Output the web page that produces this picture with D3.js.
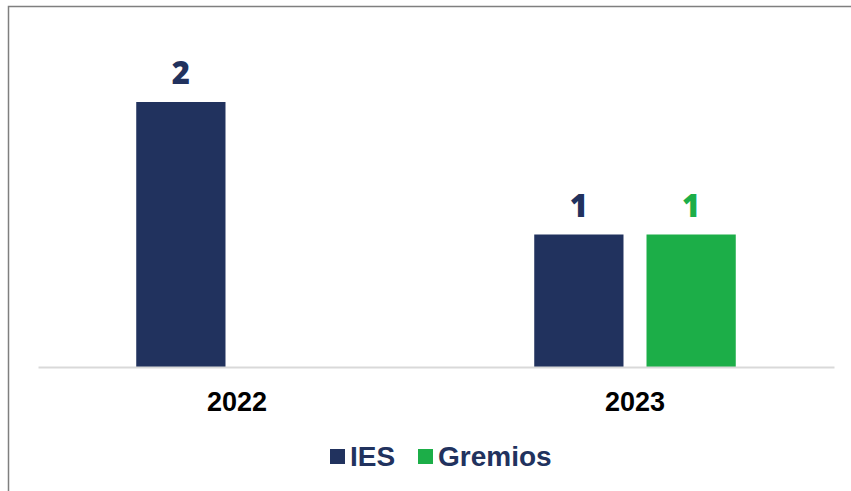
<!DOCTYPE html>
<html>
<head>
<meta charset="utf-8">
<script src="https://cdn.jsdelivr.net/npm/d3@7"></script>
<style>
  html, body { margin: 0; padding: 0; background: #fff; }
  svg { display: block; }
</style>
</head>
<body>
<svg id="chart" width="851" height="491"></svg>
<script>
const categories = ["2022", "2023"];
const seriesNames = ["IES", "Gremios"];
const iesValues = [2, 1];
const gremiosValues = [null, 1];
const seriesColors = ["#21325e", "#1cae48"];

const data = categories.map((c, i) => ({
  category: c,
  values: [
    { key: seriesNames[0], value: iesValues[i] },
    { key: seriesNames[1], value: gremiosValues[i] }
  ]
}));

const svg = d3.select("#chart");

// outer frame
svg.append("rect")
  .attr("x", 8.5).attr("y", 6.5)
  .attr("width", 900).attr("height", 600)
  .attr("fill", "none")
  .attr("stroke", "#7f7f7f")
  .attr("stroke-width", 1.5);

const x0 = d3.scaleBand().domain(categories).range([38, 834]).padding(0);
const x1 = d3.scaleBand().domain(seriesNames).range([0, x0.bandwidth()])
  .paddingInner(0.205).paddingOuter(0.875);
const y = d3.scaleLinear().domain([0, 2]).range([367, 102]);
const color = d3.scaleOrdinal().domain(seriesNames).range(seriesColors);

const groups = svg.append("g").selectAll("g")
  .data(data).join("g")
  .attr("transform", d => `translate(${x0(d.category)},0)`);

const present = d => d.values.filter(v => v.value != null);

groups.selectAll("rect")
  .data(present).join("rect")
  .attr("x", d => x1(d.key))
  .attr("width", x1.bandwidth())
  .attr("y", d => y(d.value))
  .attr("height", d => y(0) - y(d.value))
  .attr("fill", d => color(d.key));

groups.selectAll("text.val")
  .data(present).join("text")
  .attr("class", "val")
  .attr("x", d => x1(d.key) + x1.bandwidth() / 2)
  .attr("y", d => y(d.value) - 18)
  .attr("text-anchor", "middle")
  .attr("font-family", "'Open Sans', 'DejaVu Sans', sans-serif")
  .attr("font-weight", 800)
  .attr("font-size", 31)
  .attr("fill", d => color(d.key))
  .text(d => d.value);

// baseline axis
const xAxis = d3.axisBottom(x0).tickSize(0).tickPadding(0);
const axisG = svg.append("g").attr("transform", `translate(0,${y(0)})`).call(xAxis);
axisG.select(".domain").attr("stroke", "#d9d9d9").attr("stroke-width", 2);
axisG.selectAll(".tick text")
  .attr("dy", 0)
  .attr("y", 44)
  .attr("font-family", "'Liberation Sans', Arial, sans-serif")
  .attr("font-weight", "bold")
  .attr("font-size", 27)
  .attr("fill", "#000");

// legend
const legendItems = [
  { key: seriesNames[0], x: 330, tx: 350 },
  { key: seriesNames[1], x: 418, tx: 438 }
];
const legend = svg.append("g");
legend.selectAll("rect").data(legendItems).join("rect")
  .attr("x", d => d.x).attr("y", 449)
  .attr("width", 15).attr("height", 15)
  .attr("fill", d => color(d.key));
legend.selectAll("text").data(legendItems).join("text")
  .attr("x", d => d.tx).attr("y", 466)
  .attr("font-family", "'Liberation Sans', Arial, sans-serif")
  .attr("font-weight", "bold")
  .attr("font-size", 28)
  .attr("fill", "#21325e")
  .text(d => d.key);
</script>
</body>
</html>
